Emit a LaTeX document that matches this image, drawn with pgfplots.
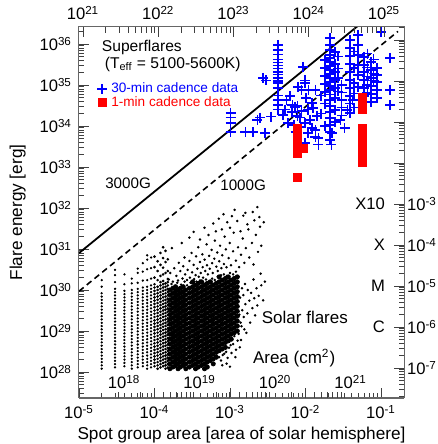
\documentclass[border=0pt]{standalone}
\usepackage{fontspec}
\setmainfont{Liberation Sans}
\usepackage{pgfplots}
\pgfplotsset{compat=1.18}
\newcommand{\fsz}[1]{\fontsize{#1}{#1}\selectfont}
\newcommand{\tenp}[1]{10\textsuperscript{#1}}
\begin{document}
\begin{tikzpicture}
% main axis: spot area vs flare energy
\begin{axis}[name=main, scale only axis, width=162.5pt, height=185.5pt,
  xmode=log, ymode=log, tick align=inside,
  major tick length=5pt, minor tick length=2.5pt,
  tick style={black!75, line width=0.4pt},
  axis line style={black!60, line width=0.5pt},
  ticklabel style={font=\fsz{8.3}},
  xmin=1e-5, xmax=0.2018, ymin=2.32e27, ymax=2.6e36,
  tick pos=left,
  xtick={1e-5,1e-4,1e-3,1e-2,1e-1},
  xticklabels={\tenp{-5},\tenp{-4},\tenp{-3},\tenp{-2},\tenp{-1}},
  ytick={1e28,1e29,1e30,1e31,1e32,1e33,1e34,1e35,1e36},
  yticklabels={\tenp{28},\tenp{29},\tenp{30},\tenp{31},\tenp{32},\tenp{33},\tenp{34},\tenp{35},\tenp{36}},
  minor ytick={3e27,4e27,5e27,6e27,7e27,8e27,9e27,
    2e28,3e28,4e28,5e28,6e28,7e28,8e28,9e28,
    2e29,3e29,4e29,5e29,6e29,7e29,8e29,9e29,
    2e30,3e30,4e30,5e30,6e30,7e30,8e30,9e30,
    2e31,3e31,4e31,5e31,6e31,7e31,8e31,9e31,
    2e32,3e32,4e32,5e32,6e32,7e32,8e32,9e32,
    2e33,3e33,4e33,5e33,6e33,7e33,8e33,9e33,
    2e34,3e34,4e34,5e34,6e34,7e34,8e34,9e34,
    2e35,3e35,4e35,5e35,6e35,7e35,8e35,9e35,2e36},
  xlabel={Spot group area [area of solar hemisphere]},
  ylabel={Flare energy [erg]},
  label style={font=\fsz{8.6}},
  xlabel style={yshift=3pt},
  legend style={draw=none, fill=none, at={(0.055,0.862)}, anchor=north west,
    font=\fsz{6.8}, inner sep=0pt, row sep=-3.5pt},
  legend cell align=left,
]
% solar flares: discrete strips of small spot areas
\addplot[only marks, mark=*, black, mark size=0.35pt, forget plot] coordinates {
(2e-5,1.2e28)(2e-5,1.45e28)(2e-5,1.74e28)(2e-5,2.09e28)(2e-5,2.51e28)(2e-5,3.02e28)(2e-5,3.63e28)(2e-5,4.37e28)(2e-5,5.25e28)(2e-5,6.31e28)(2e-5,7.59e28)(2e-5,9.12e28)(2e-5,1.1e29)(2e-5,1.32e29)(2e-5,1.58e29)(2e-5,1.91e29)(2e-5,2.29e29)(2e-5,2.75e29)(2e-5,3.31e29)(2e-5,3.98e29)(2e-5,4.79e29)(2e-5,5.75e29)(2e-5,6.92e29)(2e-5,8.32e29)(2e-5,1.2e30)(2e-5,1.74e30)
(3e-5,1.29e28)(3e-5,1.55e28)(3e-5,1.86e28)(3e-5,2.24e28)(3e-5,2.69e28)(3e-5,3.24e28)(3e-5,3.89e28)(3e-5,4.68e28)(3e-5,5.62e28)(3e-5,6.76e28)(3e-5,8.13e28)(3e-5,9.77e28)(3e-5,1.17e29)(3e-5,1.41e29)(3e-5,1.7e29)(3e-5,2.04e29)(3e-5,2.45e29)(3e-5,2.95e29)(3e-5,3.55e29)(3e-5,4.27e29)(3e-5,5.13e29)(3e-5,6.17e29)(3e-5,7.41e29)(3e-5,8.91e29)(3e-5,1.07e30)(3e-5,1.55e30)(3e-5,2.3e30)(3e-5,3.1e30)
(4e-5,1.38e28)(4e-5,1.66e28)(4e-5,2e28)(4e-5,2.4e28)(4e-5,2.88e28)(4e-5,3.47e28)(4e-5,4.17e28)(4e-5,5.01e28)(4e-5,6.03e28)(4e-5,7.24e28)(4e-5,8.71e28)(4e-5,1.05e29)(4e-5,1.26e29)(4e-5,1.51e29)(4e-5,1.82e29)(4e-5,2.19e29)(4e-5,2.63e29)(4e-5,3.16e29)(4e-5,3.8e29)(4e-5,4.57e29)(4e-5,5.5e29)(4e-5,6.61e29)(4e-5,7.94e29)(4e-5,9.55e29)(4e-5,1.38e30)(4e-5,2.4e30)
(5e-5,1.2e28)(5e-5,1.45e28)(5e-5,1.74e28)(5e-5,2.09e28)(5e-5,2.51e28)(5e-5,3.02e28)(5e-5,3.63e28)(5e-5,4.37e28)(5e-5,5.25e28)(5e-5,6.31e28)(5e-5,7.59e28)(5e-5,9.12e28)(5e-5,1.1e29)(5e-5,1.32e29)(5e-5,1.58e29)(5e-5,1.91e29)(5e-5,2.29e29)(5e-5,2.75e29)(5e-5,3.31e29)(5e-5,3.98e29)(5e-5,4.79e29)(5e-5,5.75e29)(5e-5,6.92e29)(5e-5,8.32e29)(5e-5,1e30)(5e-5,1.45e30)(5e-5,1.9e30)
(6e-5,1.29e28)(6e-5,1.55e28)(6e-5,1.86e28)(6e-5,2.24e28)(6e-5,2.69e28)(6e-5,3.24e28)(6e-5,3.89e28)(6e-5,4.68e28)(6e-5,5.62e28)(6e-5,6.76e28)(6e-5,8.13e28)(6e-5,9.77e28)(6e-5,1.17e29)(6e-5,1.41e29)(6e-5,1.7e29)(6e-5,2.04e29)(6e-5,2.45e29)(6e-5,2.95e29)(6e-5,3.55e29)(6e-5,4.27e29)(6e-5,5.13e29)(6e-5,6.17e29)(6e-5,7.41e29)(6e-5,8.91e29)(6e-5,1.07e30)(6e-5,1.5e30)(6e-5,2.6e30)(6e-5,3.3e30)
(7e-5,1.38e28)(7e-5,1.66e28)(7e-5,2e28)(7e-5,2.4e28)(7e-5,2.88e28)(7e-5,3.47e28)(7e-5,4.17e28)(7e-5,5.01e28)(7e-5,6.03e28)(7e-5,7.24e28)(7e-5,8.71e28)(7e-5,1.05e29)(7e-5,1.26e29)(7e-5,1.51e29)(7e-5,1.82e29)(7e-5,2.19e29)(7e-5,2.63e29)(7e-5,3.16e29)(7e-5,3.8e29)(7e-5,4.57e29)(7e-5,5.5e29)(7e-5,6.61e29)(7e-5,7.94e29)(7e-5,9.55e29)(7e-5,1.15e30)(7e-5,1.7e30)(7e-5,2.8e30)(7e-5,4.5e30)
(8e-5,1.2e28)(8e-5,1.45e28)(8e-5,1.74e28)(8e-5,2.09e28)(8e-5,2.51e28)(8e-5,3.02e28)(8e-5,3.63e28)(8e-5,4.37e28)(8e-5,5.25e28)(8e-5,6.31e28)(8e-5,7.59e28)(8e-5,9.12e28)(8e-5,1.1e29)(8e-5,1.32e29)(8e-5,1.58e29)(8e-5,1.91e29)(8e-5,2.29e29)(8e-5,2.75e29)(8e-5,3.31e29)(8e-5,3.98e29)(8e-5,4.79e29)(8e-5,5.75e29)(8e-5,6.92e29)(8e-5,8.32e29)(8e-5,1e30)(8e-5,1.2e30)(8e-5,1.74e30)(8e-5,3.2e30)(8e-5,5.5e30)(8e-5,7e30)
(9e-5,1.29e28)(9e-5,1.55e28)(9e-5,1.86e28)(9e-5,2.24e28)(9e-5,2.69e28)(9e-5,3.24e28)(9e-5,3.89e28)(9e-5,4.68e28)(9e-5,5.62e28)(9e-5,6.76e28)(9e-5,8.13e28)(9e-5,9.77e28)(9e-5,1.17e29)(9e-5,1.41e29)(9e-5,1.7e29)(9e-5,2.04e29)(9e-5,2.45e29)(9e-5,2.95e29)(9e-5,3.55e29)(9e-5,4.27e29)(9e-5,5.13e29)(9e-5,6.17e29)(9e-5,7.41e29)(9e-5,8.91e29)(9e-5,1.07e30)(9e-5,1.29e30)(9e-5,1.9e30)(9e-5,3.4e30)(9e-5,6.2e30)
};
% solar flares: merging strips 1.0e-4 .. 1.5e-4
\addplot[only marks, mark=*, black, mark size=0.45pt, forget plot] coordinates {
(1e-4,1.38e28)(1e-4,1.66e28)(1e-4,2e28)(1e-4,2.4e28)(1e-4,2.88e28)(1e-4,3.47e28)(1e-4,4.17e28)(1e-4,5.01e28)(1e-4,6.03e28)(1e-4,7.24e28)(1e-4,8.71e28)(1e-4,1.05e29)(1e-4,1.26e29)(1e-4,1.51e29)(1e-4,1.82e29)(1e-4,2.19e29)(1e-4,2.63e29)(1e-4,3.16e29)(1e-4,3.8e29)(1e-4,4.57e29)(1e-4,5.5e29)(1e-4,6.61e29)(1e-4,7.94e29)(1e-4,9.55e29)(1e-4,1.15e30)(1e-4,1.38e30)(1e-4,2e30)(1e-4,3.6e30)(1e-4,6.5e30)
(1.1e-4,1.2e28)(1.1e-4,1.45e28)(1.1e-4,1.74e28)(1.1e-4,2.09e28)(1.1e-4,2.51e28)(1.1e-4,3.02e28)(1.1e-4,3.63e28)(1.1e-4,4.37e28)(1.1e-4,5.25e28)(1.1e-4,6.31e28)(1.1e-4,7.59e28)(1.1e-4,9.12e28)(1.1e-4,1.1e29)(1.1e-4,1.32e29)(1.1e-4,1.58e29)(1.1e-4,1.91e29)(1.1e-4,2.29e29)(1.1e-4,2.75e29)(1.1e-4,3.31e29)(1.1e-4,3.98e29)(1.1e-4,4.79e29)(1.1e-4,5.75e29)(1.1e-4,6.92e29)(1.1e-4,8.32e29)(1.1e-4,1e30)(1.1e-4,1.2e30)(1.1e-4,1.74e30)(1.1e-4,2.9e30)(1.1e-4,5e30)
(1.2e-4,1.29e28)(1.2e-4,1.55e28)(1.2e-4,1.86e28)(1.2e-4,2.24e28)(1.2e-4,2.69e28)(1.2e-4,3.24e28)(1.2e-4,3.89e28)(1.2e-4,4.68e28)(1.2e-4,5.62e28)(1.2e-4,6.76e28)(1.2e-4,8.13e28)(1.2e-4,9.77e28)(1.2e-4,1.17e29)(1.2e-4,1.41e29)(1.2e-4,1.7e29)(1.2e-4,2.04e29)(1.2e-4,2.45e29)(1.2e-4,2.95e29)(1.2e-4,3.55e29)(1.2e-4,4.27e29)(1.2e-4,5.13e29)(1.2e-4,6.17e29)(1.2e-4,7.41e29)(1.2e-4,8.91e29)(1.2e-4,1.07e30)(1.2e-4,1.29e30)(1.2e-4,1.55e30)(1.2e-4,2.2e30)(1.2e-4,4.1e30)(1.2e-4,8e30)
(1.3e-4,1.38e28)(1.3e-4,1.66e28)(1.3e-4,2e28)(1.3e-4,2.4e28)(1.3e-4,2.88e28)(1.3e-4,3.47e28)(1.3e-4,4.17e28)(1.3e-4,5.01e28)(1.3e-4,6.03e28)(1.3e-4,7.24e28)(1.3e-4,8.71e28)(1.3e-4,1.05e29)(1.3e-4,1.26e29)(1.3e-4,1.51e29)(1.3e-4,1.82e29)(1.3e-4,2.19e29)(1.3e-4,2.63e29)(1.3e-4,3.16e29)(1.3e-4,3.8e29)(1.3e-4,4.57e29)(1.3e-4,5.5e29)(1.3e-4,6.61e29)(1.3e-4,7.94e29)(1.3e-4,9.55e29)(1.3e-4,1.15e30)(1.3e-4,1.38e30)(1.3e-4,1.66e30)(1.3e-4,2.4e30)(1.3e-4,3.5e30)(1.3e-4,6e30)(1.3e-4,1.1e31)
(1.4e-4,1.2e28)(1.4e-4,1.45e28)(1.4e-4,1.74e28)(1.4e-4,2.09e28)(1.4e-4,2.51e28)(1.4e-4,3.02e28)(1.4e-4,3.63e28)(1.4e-4,4.37e28)(1.4e-4,5.25e28)(1.4e-4,6.31e28)(1.4e-4,7.59e28)(1.4e-4,9.12e28)(1.4e-4,1.1e29)(1.4e-4,1.32e29)(1.4e-4,1.58e29)(1.4e-4,1.91e29)(1.4e-4,2.29e29)(1.4e-4,2.75e29)(1.4e-4,3.31e29)(1.4e-4,3.98e29)(1.4e-4,4.79e29)(1.4e-4,5.75e29)(1.4e-4,6.92e29)(1.4e-4,8.32e29)(1.4e-4,1e30)(1.4e-4,1.2e30)(1.4e-4,1.45e30)(1.4e-4,2.6e30)(1.4e-4,4.8e30)(1.4e-4,9e30)
(1.5e-4,1.29e28)(1.5e-4,1.55e28)(1.5e-4,1.86e28)(1.5e-4,2.24e28)(1.5e-4,2.69e28)(1.5e-4,3.24e28)(1.5e-4,3.89e28)(1.5e-4,4.68e28)(1.5e-4,5.62e28)(1.5e-4,6.76e28)(1.5e-4,8.13e28)(1.5e-4,9.77e28)(1.5e-4,1.17e29)(1.5e-4,1.41e29)(1.5e-4,1.7e29)(1.5e-4,2.04e29)(1.5e-4,2.45e29)(1.5e-4,2.95e29)(1.5e-4,3.55e29)(1.5e-4,4.27e29)(1.5e-4,5.13e29)(1.5e-4,6.17e29)(1.5e-4,7.41e29)(1.5e-4,8.91e29)(1.5e-4,1.07e30)(1.5e-4,1.29e30)(1.5e-4,1.55e30)(1.5e-4,1.86e30)(1.5e-4,2.9e30)(1.5e-4,5.6e30)
};
% solar flares: dense core
\addplot[only marks, mark=*, black, mark size=1.05pt, forget plot] coordinates {
(1.6e-4,1.2e28)(1.6e-4,1.58e28)(1.6e-4,2.09e28)(1.6e-4,2.75e28)(1.6e-4,3.63e28)(1.6e-4,4.79e28)(1.6e-4,6.31e28)(1.6e-4,8.32e28)(1.6e-4,1.1e29)(1.6e-4,1.45e29)(1.6e-4,1.91e29)(1.6e-4,2.51e29)(1.6e-4,3.31e29)(1.6e-4,4.37e29)(1.6e-4,5.75e29)(1.6e-4,7.59e29)(1.6e-4,1e30)
(1.75e-4,1.32e28)(1.75e-4,1.74e28)(1.75e-4,2.29e28)(1.75e-4,3.02e28)(1.75e-4,3.98e28)(1.75e-4,5.25e28)(1.75e-4,6.92e28)(1.75e-4,9.12e28)(1.75e-4,1.2e29)(1.75e-4,1.58e29)(1.75e-4,2.09e29)(1.75e-4,2.75e29)(1.75e-4,3.63e29)(1.75e-4,4.79e29)(1.75e-4,6.31e29)(1.75e-4,8.32e29)(1.75e-4,1.1e30)
(1.9e-4,1.45e28)(1.9e-4,1.91e28)(1.9e-4,2.51e28)(1.9e-4,3.31e28)(1.9e-4,4.37e28)(1.9e-4,5.75e28)(1.9e-4,7.59e28)(1.9e-4,1e29)(1.9e-4,1.32e29)(1.9e-4,1.74e29)(1.9e-4,2.29e29)(1.9e-4,3.02e29)(1.9e-4,3.98e29)(1.9e-4,5.25e29)(1.9e-4,6.92e29)(1.9e-4,9.12e29)(1.9e-4,1.2e30)
(2.05e-4,1.2e28)(2.05e-4,1.58e28)(2.05e-4,2.09e28)(2.05e-4,2.75e28)(2.05e-4,3.63e28)(2.05e-4,4.79e28)(2.05e-4,6.31e28)(2.05e-4,8.32e28)(2.05e-4,1.1e29)(2.05e-4,1.45e29)(2.05e-4,1.91e29)(2.05e-4,2.51e29)(2.05e-4,3.31e29)(2.05e-4,4.37e29)(2.05e-4,5.75e29)(2.05e-4,7.59e29)(2.05e-4,1e30)
(2.2e-4,1.32e28)(2.2e-4,1.74e28)(2.2e-4,2.29e28)(2.2e-4,3.02e28)(2.2e-4,3.98e28)(2.2e-4,5.25e28)(2.2e-4,6.92e28)(2.2e-4,9.12e28)(2.2e-4,1.2e29)(2.2e-4,1.58e29)(2.2e-4,2.09e29)(2.2e-4,2.75e29)(2.2e-4,3.63e29)(2.2e-4,4.79e29)(2.2e-4,6.31e29)(2.2e-4,8.32e29)(2.2e-4,1.1e30)
(2.4e-4,1.45e28)(2.4e-4,1.91e28)(2.4e-4,2.51e28)(2.4e-4,3.31e28)(2.4e-4,4.37e28)(2.4e-4,5.75e28)(2.4e-4,7.59e28)(2.4e-4,1e29)(2.4e-4,1.32e29)(2.4e-4,1.74e29)(2.4e-4,2.29e29)(2.4e-4,3.02e29)(2.4e-4,3.98e29)(2.4e-4,5.25e29)(2.4e-4,6.92e29)(2.4e-4,9.12e29)(2.4e-4,1.2e30)
(2.6e-4,1.2e28)(2.6e-4,1.58e28)(2.6e-4,2.09e28)(2.6e-4,2.75e28)(2.6e-4,3.63e28)(2.6e-4,4.79e28)(2.6e-4,6.31e28)(2.6e-4,8.32e28)(2.6e-4,1.1e29)(2.6e-4,1.45e29)(2.6e-4,1.91e29)(2.6e-4,2.51e29)(2.6e-4,3.31e29)(2.6e-4,4.37e29)(2.6e-4,5.75e29)(2.6e-4,7.59e29)(2.6e-4,1e30)
(2.9e-4,1.32e28)(2.9e-4,1.74e28)(2.9e-4,2.29e28)(2.9e-4,3.02e28)(2.9e-4,3.98e28)(2.9e-4,5.25e28)(2.9e-4,6.92e28)(2.9e-4,9.12e28)(2.9e-4,1.2e29)(2.9e-4,1.58e29)(2.9e-4,2.09e29)(2.9e-4,2.75e29)(2.9e-4,3.63e29)(2.9e-4,4.79e29)(2.9e-4,6.31e29)(2.9e-4,8.32e29)(2.9e-4,1.1e30)
(3.2e-4,1.45e28)(3.2e-4,1.91e28)(3.2e-4,2.51e28)(3.2e-4,3.31e28)(3.2e-4,4.37e28)(3.2e-4,5.75e28)(3.2e-4,7.59e28)(3.2e-4,1e29)(3.2e-4,1.32e29)(3.2e-4,1.74e29)(3.2e-4,2.29e29)(3.2e-4,3.02e29)(3.2e-4,3.98e29)(3.2e-4,5.25e29)(3.2e-4,6.92e29)(3.2e-4,9.12e29)(3.2e-4,1.2e30)(3.2e-4,1.58e30)
(3.5e-4,1.2e28)(3.5e-4,1.58e28)(3.5e-4,2.09e28)(3.5e-4,2.75e28)(3.5e-4,3.63e28)(3.5e-4,4.79e28)(3.5e-4,6.31e28)(3.5e-4,8.32e28)(3.5e-4,1.1e29)(3.5e-4,1.45e29)(3.5e-4,1.91e29)(3.5e-4,2.51e29)(3.5e-4,3.31e29)(3.5e-4,4.37e29)(3.5e-4,5.75e29)(3.5e-4,7.59e29)(3.5e-4,1e30)(3.5e-4,1.32e30)
(3.8e-4,1.32e28)(3.8e-4,1.74e28)(3.8e-4,2.29e28)(3.8e-4,3.02e28)(3.8e-4,3.98e28)(3.8e-4,5.25e28)(3.8e-4,6.92e28)(3.8e-4,9.12e28)(3.8e-4,1.2e29)(3.8e-4,1.58e29)(3.8e-4,2.09e29)(3.8e-4,2.75e29)(3.8e-4,3.63e29)(3.8e-4,4.79e29)(3.8e-4,6.31e29)(3.8e-4,8.32e29)(3.8e-4,1.1e30)(3.8e-4,1.45e30)
(4.2e-4,1.45e28)(4.2e-4,1.91e28)(4.2e-4,2.51e28)(4.2e-4,3.31e28)(4.2e-4,4.37e28)(4.2e-4,5.75e28)(4.2e-4,7.59e28)(4.2e-4,1e29)(4.2e-4,1.32e29)(4.2e-4,1.74e29)(4.2e-4,2.29e29)(4.2e-4,3.02e29)(4.2e-4,3.98e29)(4.2e-4,5.25e29)(4.2e-4,6.92e29)(4.2e-4,9.12e29)(4.2e-4,1.2e30)(4.2e-4,1.58e30)
(4.6e-4,1.2e28)(4.6e-4,1.58e28)(4.6e-4,2.09e28)(4.6e-4,2.75e28)(4.6e-4,3.63e28)(4.6e-4,4.79e28)(4.6e-4,6.31e28)(4.6e-4,8.32e28)(4.6e-4,1.1e29)(4.6e-4,1.45e29)(4.6e-4,1.91e29)(4.6e-4,2.51e29)(4.6e-4,3.31e29)(4.6e-4,4.37e29)(4.6e-4,5.75e29)(4.6e-4,7.59e29)(4.6e-4,1e30)(4.6e-4,1.32e30)
(5e-4,1.32e28)(5e-4,1.74e28)(5e-4,2.29e28)(5e-4,3.02e28)(5e-4,3.98e28)(5e-4,5.25e28)(5e-4,6.92e28)(5e-4,9.12e28)(5e-4,1.2e29)(5e-4,1.58e29)(5e-4,2.09e29)(5e-4,2.75e29)(5e-4,3.63e29)(5e-4,4.79e29)(5e-4,6.31e29)(5e-4,8.32e29)(5e-4,1.1e30)(5e-4,1.45e30)
(5.5e-4,1.91e28)(5.5e-4,2.51e28)(5.5e-4,3.31e28)(5.5e-4,4.37e28)(5.5e-4,5.75e28)(5.5e-4,7.59e28)(5.5e-4,1e29)(5.5e-4,1.32e29)(5.5e-4,1.74e29)(5.5e-4,2.29e29)(5.5e-4,3.02e29)(5.5e-4,3.98e29)(5.5e-4,5.25e29)(5.5e-4,6.92e29)(5.5e-4,9.12e29)(5.5e-4,1.2e30)(5.5e-4,1.58e30)
(6e-4,1.58e28)(6e-4,2.09e28)(6e-4,2.75e28)(6e-4,3.63e28)(6e-4,4.79e28)(6e-4,6.31e28)(6e-4,8.32e28)(6e-4,1.1e29)(6e-4,1.45e29)(6e-4,1.91e29)(6e-4,2.51e29)(6e-4,3.31e29)(6e-4,4.37e29)(6e-4,5.75e29)(6e-4,7.59e29)(6e-4,1e30)(6e-4,1.32e30)
(6.6e-4,2.29e28)(6.6e-4,3.02e28)(6.6e-4,3.98e28)(6.6e-4,5.25e28)(6.6e-4,6.92e28)(6.6e-4,9.12e28)(6.6e-4,1.2e29)(6.6e-4,1.58e29)(6.6e-4,2.09e29)(6.6e-4,2.75e29)(6.6e-4,3.63e29)(6.6e-4,4.79e29)(6.6e-4,6.31e29)(6.6e-4,8.32e29)(6.6e-4,1.1e30)(6.6e-4,1.45e30)
(7.2e-4,3.31e28)(7.2e-4,4.37e28)(7.2e-4,5.75e28)(7.2e-4,7.59e28)(7.2e-4,1e29)(7.2e-4,1.32e29)(7.2e-4,1.74e29)(7.2e-4,2.29e29)(7.2e-4,3.02e29)(7.2e-4,3.98e29)(7.2e-4,5.25e29)(7.2e-4,6.92e29)(7.2e-4,9.12e29)(7.2e-4,1.2e30)(7.2e-4,1.58e30)(7.2e-4,2.09e30)
(7.9e-4,3.63e28)(7.9e-4,4.79e28)(7.9e-4,6.31e28)(7.9e-4,8.32e28)(7.9e-4,1.1e29)(7.9e-4,1.45e29)(7.9e-4,1.91e29)(7.9e-4,2.51e29)(7.9e-4,3.31e29)(7.9e-4,4.37e29)(7.9e-4,5.75e29)(7.9e-4,7.59e29)(7.9e-4,1e30)(7.9e-4,1.32e30)(7.9e-4,1.74e30)
(8.7e-4,3.98e28)(8.7e-4,5.25e28)(8.7e-4,6.92e28)(8.7e-4,9.12e28)(8.7e-4,1.2e29)(8.7e-4,1.58e29)(8.7e-4,2.09e29)(8.7e-4,2.75e29)(8.7e-4,3.63e29)(8.7e-4,4.79e29)(8.7e-4,6.31e29)(8.7e-4,8.32e29)(8.7e-4,1.1e30)(8.7e-4,1.45e30)(8.7e-4,1.91e30)
(9.5e-4,5.75e28)(9.5e-4,7.59e28)(9.5e-4,1e29)(9.5e-4,1.32e29)(9.5e-4,1.74e29)(9.5e-4,2.29e29)(9.5e-4,3.02e29)(9.5e-4,3.98e29)(9.5e-4,5.25e29)(9.5e-4,6.92e29)(9.5e-4,9.12e29)(9.5e-4,1.2e30)(9.5e-4,1.58e30)(9.5e-4,2.09e30)
(1.04e-3,6.31e28)(1.04e-3,8.32e28)(1.04e-3,1.1e29)(1.04e-3,1.45e29)(1.04e-3,1.91e29)(1.04e-3,2.51e29)(1.04e-3,3.31e29)(1.04e-3,4.37e29)(1.04e-3,5.75e29)(1.04e-3,7.59e29)(1.04e-3,1e30)(1.04e-3,1.32e30)(1.04e-3,1.74e30)
(1.14e-3,9.12e28)(1.14e-3,1.2e29)(1.14e-3,1.58e29)(1.14e-3,2.09e29)(1.14e-3,2.75e29)(1.14e-3,3.63e29)(1.14e-3,4.79e29)(1.14e-3,6.31e29)(1.14e-3,8.32e29)(1.14e-3,1.1e30)(1.14e-3,1.45e30)(1.14e-3,1.91e30)
(1.25e-3,1e29)(1.25e-3,1.32e29)(1.25e-3,1.74e29)(1.25e-3,2.29e29)(1.25e-3,3.02e29)(1.25e-3,3.98e29)(1.25e-3,5.25e29)(1.25e-3,6.92e29)(1.25e-3,9.12e29)(1.25e-3,1.2e30)(1.25e-3,1.58e30)(1.25e-3,2.09e30)
};
% solar flares: scattered outer points
\addplot[only marks, mark=*, black, mark size=0.4pt, forget plot] coordinates {
(1.55e-4,1.8e30)(1.62e-4,2.6e30)(1.75e-4,1.6e30)(1.83e-4,3.4e30)(1.95e-4,2.2e30)(2.05e-4,1.7e30)(2.1e-4,4.6e30)(2.2e-4,2.9e30)(2.35e-4,1.9e30)(2.4e-4,3.8e30)(2.5e-4,6.2e30)(2.55e-4,2.4e30)(2.7e-4,1.75e30)(2.75e-4,3.1e30)(2.9e-4,5.1e30)(2.95e-4,2e30)(3.1e-4,8e30)(3.15e-4,2.7e30)(3.3e-4,4.1e30)(3.35e-4,1.85e30)(3.5e-4,2.3e30)(3.55e-4,6.6e30)(3.7e-4,3.3e30)(3.8e-4,1.1e31)(3.85e-4,2.1e30)(4e-4,4.8e30)(4.1e-4,2.6e30)(4.3e-4,7.4e30)(4.35e-4,3.6e30)(4.4e-4,2e30)(4.6e-4,5.5e30)(4.7e-4,2.9e30)(4.9e-4,1.3e31)(4.95e-4,4e30)(5.1e-4,2.4e30)(5.3e-4,6.8e30)(5.4e-4,3.3e30)(5.7e-4,9.5e30)(5.8e-4,4.5e30)(5.9e-4,2.6e30)(6.2e-4,5.8e30)(6.3e-4,1.6e31)(6.6e-4,3.7e30)(6.8e-4,8.2e30)(6.9e-4,2.9e30)(7.2e-4,5e30)(7.4e-4,1.2e31)(7.7e-4,3.4e30)(7.9e-4,7e30)(8.3e-4,4.3e30)(8.5e-4,2e31)(8.8e-4,9.8e30)(9e-4,3.6e30)(9.6e-4,6e30)(9.9e-4,1.4e31)(1.03e-3,4e30)(1.1e-3,8.8e30)(1.12e-3,2.5e31)(1.2e-3,5.2e30)(1.28e-3,1.1e31)(1.32e-3,3.6e30)(1.4e-3,7.2e30)(1.48e-3,1.8e31)(1.55e-3,4.6e30)(1.62e-3,1.05e31)(1.75e-3,3e31)(1.8e-3,6.2e30)(1.95e-3,1.4e31)(2.05e-3,4.2e30)(2.2e-3,2.2e31)(2.35e-3,8.5e30)(2.5e-3,3.5e31)(2.6e-3,1.2e31)
(1.68e-4,1.4e30)(1.85e-4,1.25e30)(2e-4,1.5e30)(2.25e-4,1.35e30)(2.5e-4,1.6e30)(2.7e-4,1.3e30)(3e-4,1.5e30)(3.3e-4,1.45e30)(3.6e-4,1.6e30)(4e-4,1.7e30)(4.4e-4,1.55e30)(4.8e-4,1.8e30)(5.3e-4,1.65e30)(5.8e-4,1.9e30)(6.3e-4,1.75e30)(6.9e-4,2.1e30)(7.6e-4,2.3e30)(8.3e-4,2.4e30)(9.1e-4,2.2e30)(1e-3,2.6e30)(1.1e-3,2.4e30)(1.2e-3,2.8e30)(1.3e-3,2.1e30)
(1.7e-4,1.05e31)(2.3e-4,1.4e31)(2.9e-4,1.9e31)(3.3e-4,2.6e31)(4e-4,1.7e31)(4.6e-4,3.3e31)(5.2e-4,2.2e31)(6e-4,4.2e31)(6.5e-4,2.7e31)(7.1e-4,5.5e31)(7.8e-4,3e31)(8.2e-4,7e31)(9.2e-4,4.5e31)(1e-3,3.3e31)(1.06e-3,6.3e31)(1.15e-3,9e31)(1.25e-3,4.8e31)(1.38e-3,2.7e31)(1.5e-3,6.5e31)(1.6e-3,7.6e31)(1.7e-3,4e31)(2e-3,8e31)(2.1e-3,5e31)(2.3e-3,1.05e32)(2.45e-3,6e31)(2.8e-3,4.5e31)
(1.4e-3,6e28)(1.42e-3,1.3e29)(1.45e-3,3.2e29)(1.5e-3,7.5e29)(1.52e-3,2.2e29)(1.58e-3,1.4e30)(1.6e-3,4.5e29)(1.65e-3,9e28)(1.7e-3,2.7e29)(1.72e-3,1e30)(1.8e-3,5.5e29)(1.85e-3,1.6e29)(1.9e-3,8.5e29)(1.98e-3,3.6e29)(2.05e-3,1.8e30)(2.1e-3,6.3e29)(2.15e-3,2.4e29)(2.25e-3,1.1e30)(2.3e-3,4.2e29)(2.4e-3,7.2e29)(2.55e-3,2.5e30)(2.6e-3,1.3e30)(2.75e-3,5.6e29)(2.9e-3,1.6e30)(1.55e-3,1.1e29)(1.35e-3,4e28)(1.33e-3,2.5e29)(1.36e-3,6.5e29)(1.38e-3,1.6e29)(1.44e-3,1.1e30)
(6.7e-4,2.4e28)(7.2e-4,2.3e28)(7.6e-4,1.9e28)(8e-4,2.6e28)(8.4e-4,2.8e28)(8.9e-4,3.1e28)(9.3e-4,2.2e28)(9.7e-4,3.9e28)(1.02e-3,4.5e28)(1.05e-3,2.9e28)(1.1e-3,4.8e28)(1.14e-3,7.5e28)(1.2e-3,3.5e28)(1.26e-3,5.8e28)(1.3e-3,8.5e28)(1.18e-3,2.3e28)(9e-4,1.6e28)(7.9e-4,1.45e28)(1e-3,1.35e28)
};
% field-strength lines
\addplot[forget plot, black, line width=0.9pt] coordinates {(1e-5,7.94e30) (0.2018,2.28e37)};
\addplot[forget plot, black, line width=0.8pt, dash pattern=on 3pt off 2pt] coordinates {(1e-5,9.33e29) (0.168,2.03e36)};
% superflares, 30-min cadence
\addplot[only marks, mark=+, mark size=2.5pt, blue, line width=0.8pt] coordinates {
(1.02e-3,2.1e34)(1.02e-3,1.6e34)(1.02e-3,1.2e34)(1.02e-3,7.1e33)(1.6e-3,7.1e33)(2e-3,7.1e33)(2.5e-3,1.6e34)(3.5e-3,1.7e34)(2.9e-3,6.8e33)(2.3e-3,1.4e34)
(4.3e-3,9.5e35)(4.3e-3,7.1e35)(4.3e-3,5.6e35)(4.3e-3,4.2e35)(4.3e-3,3.5e35)(4.3e-3,3e35)(4.3e-3,2.5e35)(4.3e-3,2.1e35)(4.3e-3,1.8e35)(4.3e-3,1.5e35)(4.3e-3,1.26e35)(4.3e-3,1.12e35)(4.3e-3,8.5e34)(4.3e-3,5.6e34)(4.3e-3,4.3e34)(4.3e-3,3.2e34)(4.3e-3,2.5e34)
(2.75e-3,1.5e35)(3e-3,1.3e35)(9.3e-3,2.75e35)(9.8e-3,1.3e35)
(4.4e-3,4.3e34)(6.2e-3,5.4e34)(6.7e-3,3.2e34)(8.9e-3,7.6e34)(1.1e-2,7.6e34)(1.35e-2,7.6e34)(1.23e-2,3.6e34)(7.8e-3,1.74e34)(5e-3,1.86e34)(1.35e-2,7.9e33)(1.48e-2,5.1e33)(8.9e-3,2.3e34)(9.8e-3,1.17e34)(5.9e-3,1.17e34)(1.41e-2,1.74e34)(7.8e-3,3.1e34)(7.9e-3,8.9e34)(9.8e-3,1.12e35)(7.2e-3,2.9e34)(1.07e-2,2.5e34)(8.7e-3,9.5e33)(1.07e-2,6.8e33)(1.35e-2,5.4e33)(1.48e-2,3.5e33)(2.2e-2,3.5e33)(9.8e-3,3.9e33)(7.4e-3,7.1e33)(5.6e-3,4.3e34)(6.6e-3,2.2e34)(8.5e-3,1.6e34)(1.15e-2,1.4e34)(5.4e-3,2.5e34)(1.26e-2,2.75e34)(1.02e-2,4.8e34)(7.1e-3,1.05e34)(1.23e-2,8.9e33)
(2.11e-2,1.41e36)(2.11e-2,9.5e35)(2.11e-2,7.1e35)(2.11e-2,5.4e35)(2.11e-2,4.6e35)(2.11e-2,3.6e35)(2.11e-2,2.9e35)(2.11e-2,2.3e35)(2.11e-2,1.86e35)(2.11e-2,1.48e35)(2.11e-2,1.17e35)(2.11e-2,9.5e34)(2.11e-2,7.6e34)(2.11e-2,5.8e34)(2.11e-2,4.3e34)(2.11e-2,3.1e34)(2.11e-2,2.2e34)(2.11e-2,1.58e34)(2.11e-2,1.05e34)(2.11e-2,7.1e33)(2.11e-2,4.6e33)
(1.82e-2,4.1e35)(1.82e-2,2.6e35)(1.82e-2,1.66e35)(1.82e-2,1.05e35)(1.82e-2,6.8e34)(1.82e-2,3.5e34)(1.82e-2,1e34)
(2.45e-2,6.3e35)(2.45e-2,3.2e35)(2.45e-2,2.1e35)(2.45e-2,1.32e35)(2.45e-2,8.5e34)(2.45e-2,4.8e34)(2.45e-2,2.45e34)(2.45e-2,1.26e34)
(3e-2,1e35)(3e-2,6.6e34)(3e-2,4.3e34)(3e-2,2.8e34)(3e-2,1.8e34)
(2.7e-2,5e35)(2.7e-2,2.5e35)(2.7e-2,1.5e35)(2.7e-2,7e34)(1.6e-2,2e34)(1.6e-2,5.5e34)
(3.9e-2,1.26e36)(3.9e-2,7.9e35)(3.9e-2,5.1e35)(3.9e-2,3.2e35)(3.9e-2,2.1e35)(3.9e-2,1.32e35)(3.9e-2,8.5e34)(3.9e-2,5.4e34)(3.9e-2,3.5e34)(3.9e-2,2.1e34)
(4.4e-2,6.5e35)(4.4e-2,2.6e35)(4.4e-2,1.1e35)(4.4e-2,6.2e34)(4.4e-2,2.8e34)
(4.95e-2,1.66e36)(4.95e-2,9.5e35)(4.95e-2,5.4e35)(4.95e-2,3.1e35)(4.95e-2,1.74e35)(4.95e-2,8.9e34)
(5.96e-2,4.8e35)(5.96e-2,3.1e35)(5.96e-2,2.1e35)(5.96e-2,1.32e35)(5.96e-2,8.5e34)(5.96e-2,5.4e34)
(6.6e-2,5.8e35)(6.6e-2,2.7e35)(6.6e-2,1.6e35)(6.6e-2,1e35)(6.6e-2,6.6e34)
(7.4e-2,3.6e35)(7.4e-2,2.3e35)(7.4e-2,1.48e35)(7.4e-2,9.5e34)(7.4e-2,6e34)(7.4e-2,3.9e34)
(8e-2,4.2e35)(8e-2,1.9e35)(8e-2,1.3e35)
(8.9e-2,2.6e35)(8.9e-2,1.74e35)(8.9e-2,1.17e35)(8.9e-2,7.6e34)(8.9e-2,4.8e34)
(0.1,1.95e36)(0.132,4.6e35)(0.132,7.6e34)(0.132,3.2e34)
(2.26e-2,6.8e33)(2.9e-2,1.41e34)(3.3e-2,8.9e33)(4.2e-2,4.3e34)(3.6e-2,2.45e34)
};
\addlegendentry{\textcolor{blue}{30-min cadence data}}
% superflares, 1-min cadence
\addplot[only marks, mark=square*, mark size=2pt, red] coordinates {
(7.7e-3,8.5e33)(7.7e-3,6.3e33)(7.7e-3,4.8e33)(7.7e-3,3.6e33)(7.7e-3,2.75e33)(7.7e-3,2.1e33)(9.5e-3,2.8e33)(7.7e-3,5.5e32)
(5.6e-2,5.1e34)(5.6e-2,4.1e34)(5.6e-2,3.2e34)(5.6e-2,2.6e34)
(5.6e-2,8.5e33)(5.6e-2,6.3e33)(5.6e-2,4.8e33)(5.6e-2,3.6e33)(5.6e-2,2.75e33)(5.6e-2,2.1e33)(5.6e-2,1.58e33)(5.6e-2,1.26e33)
};
\addlegendentry{\textcolor{red}{1-min cadence data}}
\node[anchor=west, font=\fsz{7.8}] at (rel axis cs:0.049,0.946) {Superflares};
\node[anchor=west, font=\fsz{7.8}] at (rel axis cs:0.058,0.900) {(T\textsubscript{eff} = 5100-5600K)};
\node[font=\fsz{7.6}] at (rel axis cs:0.151,0.580) {3000G};
\node[font=\fsz{7.6}] at (rel axis cs:0.505,0.574) {1000G};
\node[font=\fsz{8.5}] at (rel axis cs:0.695,0.218) {Solar flares};
\node[font=\fsz{8.5}] at (rel axis cs:0.662,0.108) {Area (cm\textsuperscript{2})};
\end{axis}
% top axis: area in cm^2
\begin{axis}[scale only axis, width=162.5pt, height=185.5pt,
  xmode=log, ymode=log, tick align=inside, major tick length=5pt,
  tick style={black!75, line width=0.4pt},
  axis line style={black!60, line width=0.5pt},
  ticklabel style={font=\fsz{8.3}},
  xmin=8.85e20, xmax=1.845e25, ymin=1, ymax=10,
  axis x line*=top, axis y line=none,
  xtick={1e21,1e22,1e23,1e24,1e25},
  xticklabels={\tenp{21},\tenp{22},\tenp{23},\tenp{24},\tenp{25}}]
\addplot[draw=none, forget plot] coordinates {(1e21,2) (1e25,5)};
\end{axis}
% inner bottom axis: solar area in cm^2
\begin{axis}[scale only axis, width=162.5pt, height=185.5pt,
  xmode=log, ymode=log, tick align=inside, major tick length=2.5pt,
  tick style={black!75, line width=0.4pt},
  axis line style={black!60, line width=0.5pt},
  ticklabel style={font=\fsz{8.3}},
  xmin=3.04e17, xmax=6.13e21, ymin=1, ymax=10,
  axis x line*=bottom, axis y line=none,
  xtick={1e18,1e19,1e20,1e21},
  xticklabels={\tenp{18},\tenp{19},\tenp{20},\tenp{21}},
  xticklabel style={anchor=south, yshift=1pt, xshift=3pt}]
\addplot[draw=none, forget plot] coordinates {(1e18,2) (1e21,5)};
\end{axis}
% right axis: GOES class
\begin{axis}[scale only axis, width=162.5pt, height=185.5pt,
  xmode=log, ymode=log, tick align=inside,
  major tick length=5pt, minor tick length=2.5pt,
  tick style={black!75, line width=0.4pt},
  axis line style={black!60, line width=0.5pt},
  ticklabel style={font=\fsz{8.3}},
  yticklabel style={xshift=-2pt},
  xmin=1e-5, xmax=0.2018, ymin=1.845e-8, ymax=20.65,
  axis y line*=right, axis x line=none,
  ytick={1e-7,1e-6,1e-5,1e-4,1e-3,1e-2,1e-1,1,10},
  yticklabels={\tenp{-7},\tenp{-6},\tenp{-5},\tenp{-4},\tenp{-3},,,,},
  minor ytick={2e-8,3e-8,4e-8,5e-8,6e-8,7e-8,8e-8,9e-8,
    2e-7,3e-7,4e-7,5e-7,6e-7,7e-7,8e-7,9e-7,
    2e-6,3e-6,4e-6,5e-6,6e-6,7e-6,8e-6,9e-6,
    2e-5,3e-5,4e-5,5e-5,6e-5,7e-5,8e-5,9e-5,
    2e-4,3e-4,4e-4,5e-4,6e-4,7e-4,8e-4,9e-4,
    2e-3,3e-3,4e-3,5e-3,6e-3,7e-3,8e-3,9e-3,
    2e-2,3e-2,4e-2,5e-2,6e-2,7e-2,8e-2,9e-2,
    2e-1,3e-1,4e-1,5e-1,6e-1,7e-1,8e-1,9e-1,
    2,3,4,5,6,7,8,9,20}]
\addplot[draw=none, forget plot] coordinates {(1e-4,1e-6) (1e-2,1e-2)};
\node[anchor=east, xshift=-6pt, font=\fsz{8.3}] at (axis cs:0.2018,1e-3) {X10};
\node[anchor=east, xshift=-6pt, font=\fsz{8.3}] at (axis cs:0.2018,1e-4) {X};
\node[anchor=east, xshift=-6pt, font=\fsz{8.3}] at (axis cs:0.2018,1e-5) {M};
\node[anchor=east, xshift=-6pt, font=\fsz{8.3}] at (axis cs:0.2018,1e-6) {C};
\end{axis}
\pgfresetboundingbox
\path[use as bounding box] ([shift={(-39.5pt,-23pt)}]main.south west) rectangle ([shift={(16.5pt,13.5pt)}]main.north east);
\end{tikzpicture}
\end{document}
